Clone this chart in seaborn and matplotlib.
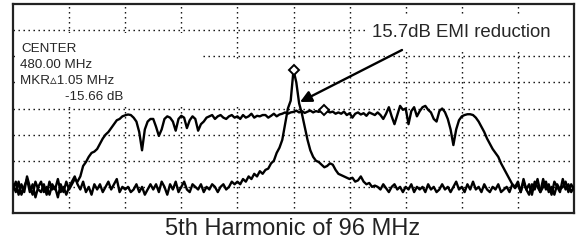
import numpy as np
import pandas as pd
import matplotlib
matplotlib.use("Agg")
import matplotlib.pyplot as plt
import seaborn as sns
from matplotlib.patches import Rectangle

# frequency axis in screen divisions (0..10), level in dB (10 dB/div, ref 0 dB at top)
freq_div = [round(i * 0.05, 2) for i in range(201)]

# trace without spread spectrum (narrow 480 MHz harmonic)
level_fixed = [
    -69, -72, -68, -73, -70, -67, -72, -69, -74, -70,
    -68, -72, -70, -73, -69, -71, -67, -72, -70, -73,
    -70, -68, -66, -69, -71, -68, -72, -70, -73, -69,
    -71, -69, -72, -70, -68, -71, -69, -67, -72, -70,
    -71, -70, -72, -71, -69, -72, -70, -73, -71, -69,
    -71, -69, -72, -68, -70, -73, -69, -71, -68, -72,
    -70, -68, -71, -72, -69, -70, -71, -69, -72, -70,
    -71, -69, -70, -72, -70, -69, -71, -70, -68, -69,
    -68, -69, -67, -68, -66, -67, -65, -66, -64, -65,
    -63.5, -63, -61, -60, -57, -55, -52, -46, -40, -37,
    -25.3, -30, -38, -42, -47, -52, -56, -58.5, -60, -60.5,
    -61.5, -62.5, -62, -61, -61.5, -63.5, -65, -65.5, -66, -66.5,
    -67, -66.5, -68, -67.5, -66, -68, -69, -68.5, -70, -69.5,
    -70, -71, -69, -70.5, -72, -70, -69, -71, -70, -72,
    -70, -71, -69, -72, -70, -71, -70, -72, -69, -71,
    -70, -72, -71, -69, -71, -70, -72, -70, -68, -71,
    -70, -72, -69, -71, -68, -71, -70, -72, -69, -71,
    -72, -70, -71, -69, -72, -71, -70, -72, -69, -70,
    -68, -72, -67, -71, -69, -73, -68, -70, -72, -67,
    -71, -69, -73, -68, -70, -72, -67, -71, -69, -72, -70,
]

# trace with spread spectrum (wide, flat top)
level_spread = [
    -71, -68, -73, -69, -72, -66, -70, -73, -68, -71,
    -72, -69, -73, -68, -71, -70, -74, -69, -72, -68,
    -71, -69, -67, -68, -66, -62, -60.5, -58.5, -57, -56.5,
    -55.5, -53.5, -51.5, -50, -49, -47.5, -46, -44.5, -44, -43,
    -42.6, -42.3, -42.5, -43.5, -45, -49, -56, -48, -45, -44,
    -44, -47, -50.5, -48, -44, -43, -43.5, -45, -48.5, -44,
    -42.8, -43.5, -47.5, -44.5, -43, -44, -48.5, -46, -45, -43.5,
    -43, -42.5, -44, -43, -42.5, -43.5, -44, -43, -42.5, -43.5,
    -43, -44, -42.5, -43.5, -43, -42, -43.5, -42.8, -43, -42.5,
    -42.5, -43.5, -42.8, -42, -43, -42.3, -42, -41.5, -42, -41.5,
    -41.3, -40.8, -41.5, -41, -41.7, -41.2, -40.8, -41.5, -41, -41.3,
    -40.8, -40.6, -41, -41.5, -41.2, -42, -41.5, -42, -41.2, -42.5,
    -41.8, -43.5, -42, -41.5, -42.3, -41.8, -42.8, -41.5, -42, -42.5,
    -41.5, -42.5, -44, -42, -39.5, -43, -46, -42.5, -39, -40.5,
    -40, -46, -41, -39.5, -43, -41, -39.5, -39, -40.5, -41.5,
    -44, -45, -41, -40, -41.4, -44, -48, -54, -48, -44.5,
    -43, -42.5, -42.2, -42.2, -42.5, -43.5, -45, -47, -49, -51.5,
    -53.5, -55.5, -57, -58.5, -61, -63, -65, -67, -69, -70.5,
    -69, -72, -68, -71, -73, -69, -71, -67, -72, -70,
    -68, -72, -70, -73, -69, -71, -70, -68, -72, -69, -71,
]

marker_div = [5.0, 5.55]
marker_level = [-25.3, -40.6]

df = pd.concat([
    pd.DataFrame({"freq": freq_div, "level": level_fixed, "trace": "fixed"}),
    pd.DataFrame({"freq": freq_div, "level": level_spread, "trace": "spread"}),
])

sns.set_style("white")
plt.rcParams["font.family"] = ["Liberation Sans", "DejaVu Sans"]

W, H = 577, 242
fig = plt.figure(figsize=(W / 100, H / 100), dpi=100)
ax = fig.add_axes([13 / W, (H - 213) / H, (574 - 13) / W, (213 - 4) / H])

ax.set_xlim(0, 10)
ax.set_ylim(-80, 0)
ax.set_xticks(range(1, 10))
ax.set_yticks(range(-70, 0, 10))
ax.set_xticklabels([])
ax.set_yticklabels([])
ax.tick_params(length=0)
ax.set_axisbelow(True)
ax.grid(True, color="black", linestyle=(0, (1, 2.6)), linewidth=1.0)
for s in ax.spines.values():
    s.set_color("#222222")
    s.set_linewidth(1.6)

# blank areas in the screen image (annotation backgrounds)
ax.add_patch(Rectangle((0.03, -39.5), 3.30, 28.5, facecolor="white", edgecolor="none", zorder=1))
ax.add_patch(Rectangle((3.30, -39.5), 1.82, 18.5, facecolor="white", edgecolor="none", zorder=1))
ax.add_patch(Rectangle((6.27, -18.4), 3.72, 14.6, facecolor="white", edgecolor="none", zorder=1))

sns.lineplot(data=df, x="freq", y="level", units="trace", estimator=None,
             color="black", linewidth=1.7, ax=ax, zorder=3, legend=False)
ax.plot(marker_div, marker_level, linestyle="none", marker="D", markersize=5.5,
        markerfacecolor="white", markeredgecolor="black", markeredgewidth=1.4, zorder=4)
ax.set_xlabel("")
ax.set_ylabel("")

# annotation text (figure pixel positions from the top)
def fy(py):
    return (H - py) / H

small = 9.6
fig.text(21 / W, fy(52), "CENTER", fontsize=small, va="baseline", ha="left")
fig.text(20.5 / W, fy(67.5), "480.00 MHz", fontsize=small, va="baseline", ha="left")
fig.text(20.5 / W, fy(84), "MKR\u25B51.05 MHz", fontsize=small, va="baseline", ha="left")
fig.text(65 / W, fy(100.5), "-15.66 dB", fontsize=small, va="baseline", ha="left")

fig.text(372 / W, fy(37), "15.7dB EMI reduction", fontsize=13.4, va="baseline", ha="left")

ax.annotate("", xy=(300, H - 102), xytext=(402, H - 50),
            xycoords="figure pixels", textcoords="figure pixels",
            arrowprops=dict(arrowstyle="-|>", color="black", lw=1.7,
                            mutation_scale=17, shrinkA=0, shrinkB=0), zorder=5)

fig.text(293 / W, fy(235), "5th Harmonic of 96 MHz", fontsize=17, va="baseline", ha="center",
         color="#222222")

fig.savefig("out.png", dpi=100)
